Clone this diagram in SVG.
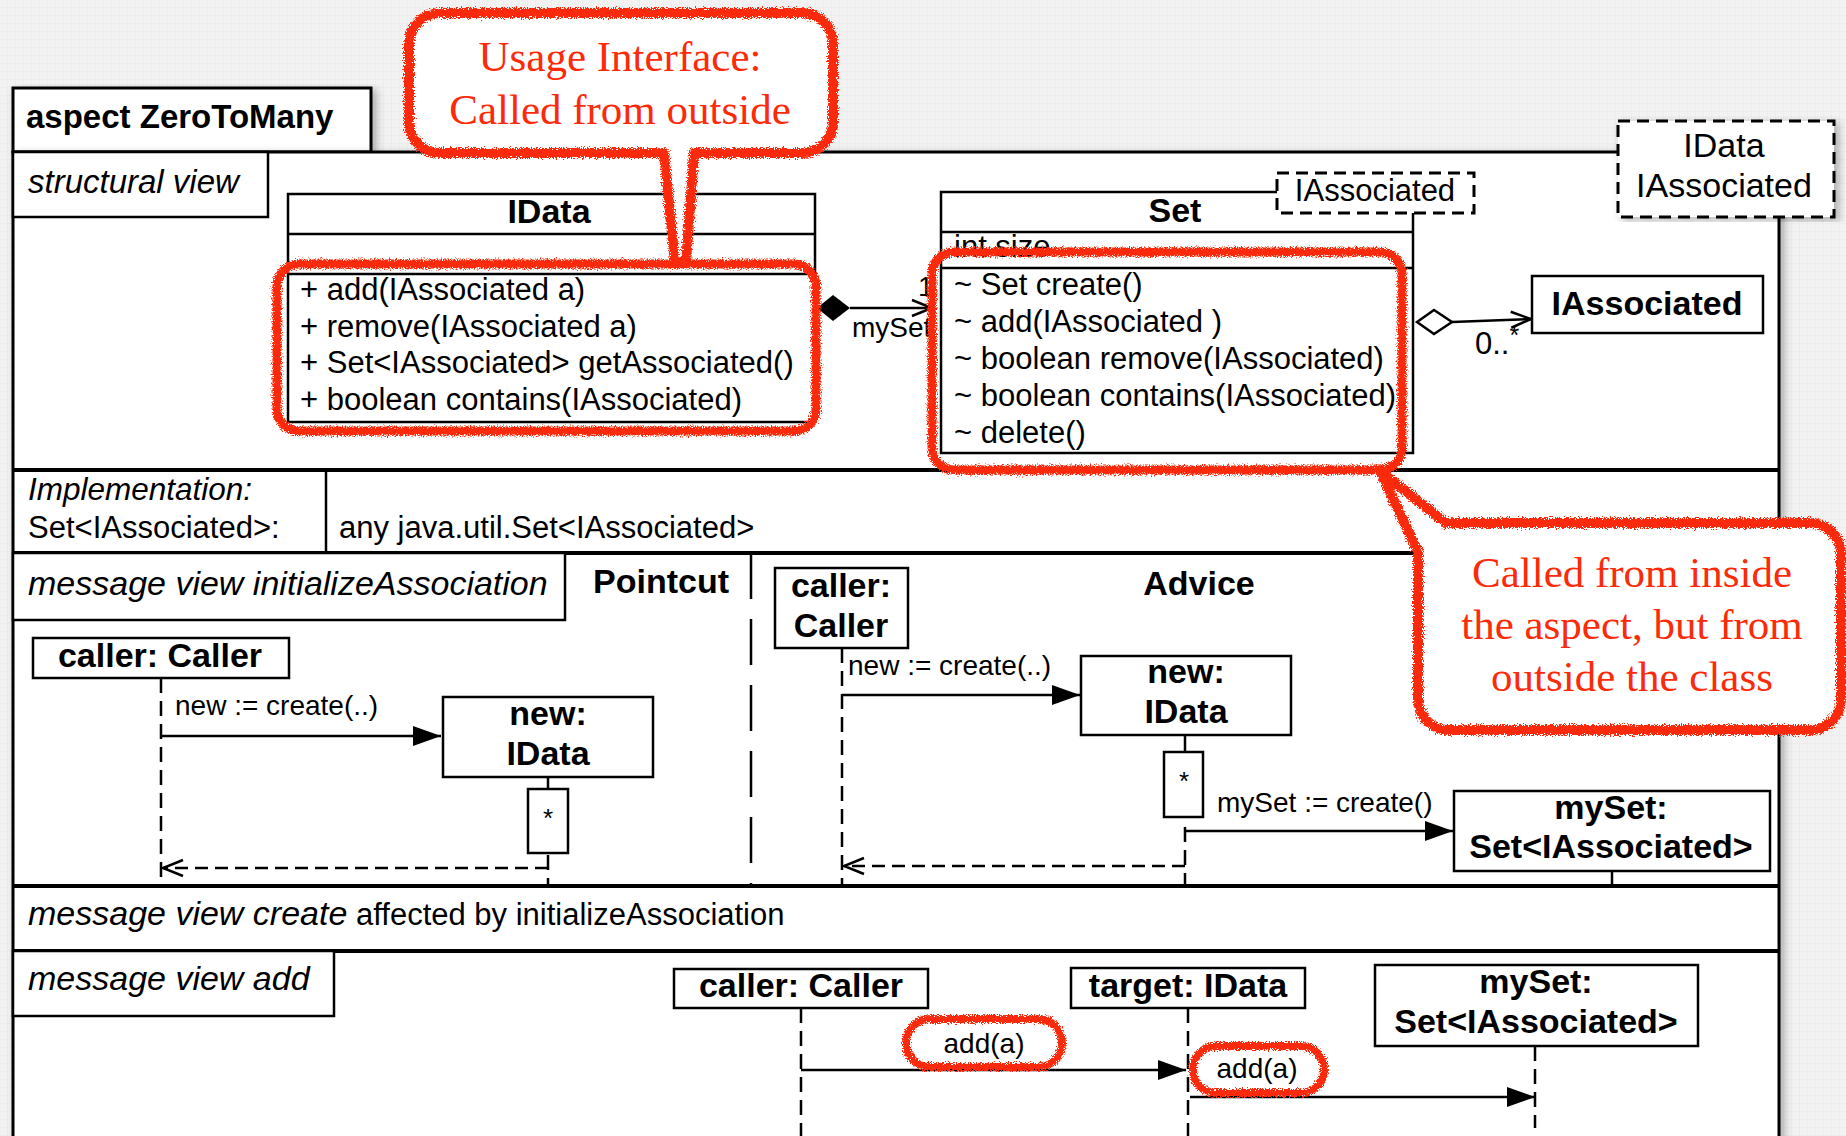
<svg xmlns="http://www.w3.org/2000/svg" width="1846" height="1136" viewBox="0 0 1846 1136">
  <style>
    .t{font-family:"Liberation Sans",Arial,Helvetica,sans-serif;fill:#000}
    .b{font-weight:bold;font-size:34px}
    .r{font-size:31px}
    .i{font-style:italic;font-size:34px}
    .m{font-size:28px}
    .c{text-anchor:middle}
    .box{fill:#fff;stroke:#000;stroke-width:2.5}
    .ln{stroke:#000;stroke-width:2.5;fill:none}
    .frame{fill:#fff;stroke:#000;stroke-width:3}
    .div{stroke:#000;stroke-width:4}
    .dash{fill:#fff;stroke:#000;stroke-width:3;stroke-dasharray:12 7}
    .life{stroke:#000;stroke-width:2.5;stroke-dasharray:15 8;fill:none}
    .ret{stroke:#000;stroke-width:2.5;stroke-dasharray:13 7;fill:none}
    .msgl{stroke:#000;stroke-width:2.5;fill:none}
    .hl{fill:none;stroke:#fc2a08;stroke-width:9;stroke-linejoin:round;filter:url(#rough)}
    .call{fill:#fff;stroke:#fc2a08;stroke-width:10;stroke-linejoin:round;filter:url(#rough)}
    .rt{font-family:"Liberation Serif","Times New Roman",serif;font-size:43px;fill:#fc2a08;text-anchor:middle}
  </style>
  <defs>
    <pattern id="grid" width="8" height="8" patternUnits="userSpaceOnUse">
      <rect width="8" height="8" fill="#f2f2f2"/>
      <path d="M8 0V8M0 8H8" stroke="#e8e8e8" stroke-width="1"/>
    </pattern>
    <filter id="shadow" x="-5%" y="-5%" width="110%" height="110%">
      <feDropShadow dx="4" dy="3" stdDeviation="4" flood-color="#000" flood-opacity="0.28"/>
    </filter>
    <!-- marker-pen look for the red annotations -->
    <filter id="rough" x="-10%" y="-10%" width="120%" height="120%">
      <feTurbulence type="fractalNoise" baseFrequency="0.85" numOctaves="2" seed="7" result="n"/>
      <feDisplacementMap in="SourceGraphic" in2="n" scale="8" xChannelSelector="R" yChannelSelector="G"/>
    </filter>
    <marker id="filled" viewBox="0 0 28 20" refX="28" refY="10" markerWidth="28" markerHeight="20" markerUnits="userSpaceOnUse" orient="auto">
      <path d="M0 0L28 10L0 20Z" fill="#000"/>
    </marker>
    <marker id="open" viewBox="0 0 24 20" refX="22" refY="10" markerWidth="24" markerHeight="20" markerUnits="userSpaceOnUse" orient="auto">
      <path d="M2 2L22 10L2 18" fill="none" stroke="#000" stroke-width="2.5"/>
    </marker>
  </defs>

  <!-- page background -->
  <rect width="1846" height="1136" fill="url(#grid)"/>

  <!-- aspect frame -->
  <g id="aspect-frame">
    <rect x="13" y="88" width="358" height="64" class="frame" filter="url(#shadow)"/>
    <rect x="13" y="152" width="1766" height="1010" class="frame" filter="url(#shadow)"/>
    <text x="26" y="128" class="t b" style="font-size:33px">aspect ZeroToMany</text>
  </g>

  <!-- aspect template parameters -->
  <g id="aspect-template">
    <rect x="1618" y="121" width="216" height="96" class="dash" filter="url(#shadow)"/>
    <text x="1724" y="157" class="t c" style="font-size:34px">IData</text>
    <text x="1724" y="197" class="t c" style="font-size:34px">IAssociated</text>
  </g>

  <!-- compartment dividers -->
  <g id="compartments">
    <line x1="13" y1="470" x2="1779" y2="470" class="div"/>
    <line x1="13" y1="553" x2="1779" y2="553" class="div"/>
    <line x1="13" y1="886" x2="1779" y2="886" class="div"/>
    <line x1="13" y1="951" x2="1779" y2="951" class="div"/>
    <line x1="326" y1="470" x2="326" y2="553" class="ln"/>
    <line x1="751" y1="553" x2="751" y2="886" stroke="#000" stroke-width="2.5" stroke-dasharray="46 20"/>
  </g>

  <g id="structural-view-tab">
    <rect x="13" y="152" width="255" height="65" class="box"/>
    <text x="28" y="193" class="t i" style="font-size:33px">structural view</text>
  </g>

  <!-- class IData -->
  <g id="idata-class">
    <rect x="288" y="194" width="527" height="228" class="box"/>
    <line x1="288" y1="234" x2="815" y2="234" class="ln"/>
    <line x1="288" y1="274" x2="815" y2="274" class="ln"/>
    <text x="549" y="223" class="t b c">IData</text>
    <text x="300" y="300" class="t r">+ add(IAssociated a)</text>
    <text x="300" y="337" class="t r">+ remove(IAssociated a)</text>
    <text x="300" y="373" class="t r">+ Set&lt;IAssociated&gt; getAssociated()</text>
    <text x="300" y="410" class="t r">+ boolean contains(IAssociated)</text>
  </g>

  <!-- class Set -->
  <g id="set-class">
    <rect x="941" y="192" width="472" height="261" class="box"/>
    <line x1="941" y1="232" x2="1413" y2="232" class="ln"/>
    <line x1="941" y1="268" x2="1413" y2="268" class="ln"/>
    <text x="1175" y="222" class="t b c">Set</text>
    <text x="954" y="257" class="t r">int size</text>
    <text x="954" y="295" class="t r">~ Set create()</text>
    <text x="954" y="332" class="t r">~ add(IAssociated )</text>
    <text x="954" y="369" class="t r">~ boolean remove(IAssociated)</text>
    <text x="954" y="406" class="t r">~ boolean contains(IAssociated)</text>
    <text x="954" y="443" class="t r">~ delete()</text>
  </g>
  <g id="set-template">
    <rect x="1277" y="173" width="197" height="40" class="dash"/>
    <text x="1375" y="201" class="t r c">IAssociated</text>
  </g>

  <g id="iassociated-class">
    <rect x="1532" y="276" width="231" height="57" class="box"/>
    <text x="1647" y="315" class="t b c">IAssociated</text>
  </g>

  <!-- implementation row -->
  <g id="implementation">
    <text x="28" y="500" class="t" style="font-style:italic;font-size:31.5px">Implementation:</text>
    <text x="28" y="538" class="t r">Set&lt;IAssociated&gt;:</text>
    <text x="339" y="538" class="t r">any java.util.Set&lt;IAssociated&gt;</text>
  </g>

  <!-- message view initializeAssociation -->
  <g id="msgview-init-tab">
    <rect x="13" y="553" width="552" height="67" class="box"/>
    <text x="28" y="595" class="t i">message view initializeAssociation</text>
  </g>
  <text x="593" y="593" class="t b">Pointcut</text>
  <text x="1199" y="595" class="t b c">Advice</text>

  <g id="pointcut-caller">
    <rect x="33" y="638" width="256" height="40" class="box"/>
    <text x="160" y="667" class="t b c">caller: Caller</text>
  </g>
  <g id="pointcut-new">
    <rect x="443" y="697" width="210" height="80" class="box"/>
    <text x="548" y="725" class="t b c">new:</text>
    <text x="548" y="765" class="t b c">IData</text>
    <rect x="528" y="789" width="40" height="64" class="box"/>
    <text x="548" y="827" class="t c" style="font-size:26px">*</text>
  </g>

  <g id="advice-caller">
    <rect x="775" y="568" width="133" height="80" class="box"/>
    <text x="841" y="597" class="t b c">caller:</text>
    <text x="841" y="637" class="t b c">Caller</text>
  </g>
  <g id="advice-new">
    <rect x="1081" y="656" width="210" height="79" class="box"/>
    <text x="1186" y="683" class="t b c">new:</text>
    <text x="1186" y="723" class="t b c">IData</text>
    <rect x="1164" y="752" width="39" height="65" class="box"/>
    <text x="1184" y="790" class="t c" style="font-size:26px">*</text>
  </g>
  <g id="advice-myset">
    <rect x="1454" y="791" width="316" height="80" class="box"/>
    <text x="1611" y="819" class="t b c">mySet:</text>
    <text x="1611" y="858" class="t b c">Set&lt;IAssociated&gt;</text>
  </g>

  <!-- message view create -->
  <g id="msgview-create">
    <text x="28" y="925" class="t"><tspan style="font-style:italic;font-size:34px">message view create</tspan><tspan style="font-size:31px"> affected by initializeAssociation</tspan></text>
  </g>

  <!-- message view add -->
  <g id="msgview-add-tab">
    <rect x="13" y="951" width="321" height="65" class="box"/>
    <text x="28" y="990" class="t i">message view add</text>
  </g>
  <g id="add-caller">
    <rect x="674" y="969" width="254" height="39" class="box"/>
    <text x="801" y="997" class="t b c">caller: Caller</text>
  </g>
  <g id="add-target">
    <rect x="1071" y="968" width="234" height="40" class="box"/>
    <text x="1188" y="997" class="t b c">target: IData</text>
  </g>
  <g id="add-myset">
    <rect x="1375" y="965" width="323" height="81" class="box"/>
    <text x="1536" y="993" class="t b c">mySet:</text>
    <text x="1536" y="1033" class="t b c">Set&lt;IAssociated&gt;</text>
  </g>

  <!-- connectors: associations, lifelines and messages -->
  <g id="connectors">
    <!-- composition IData -> Set -->
    <polygon points="817,308 833,295 850,308 833,321" fill="#000"/>
    <line x1="850" y1="308" x2="932" y2="308" class="msgl" marker-end="url(#open)"/>
    <text x="918" y="296" class="t" style="font-size:28px">1</text>
    <text x="852" y="337" class="t" style="font-size:28px">mySet</text>
    <!-- aggregation Set -> IAssociated -->
    <polygon points="1417,322 1434,310 1452,322 1434,334" fill="#fff" stroke="#000" stroke-width="2.5"/>
    <line x1="1452" y1="322" x2="1531" y2="319" class="msgl" marker-end="url(#open)"/>
    <text x="1475" y="354" class="t" style="font-size:31px">0..<tspan dy="-10" style="font-size:25px">*</tspan></text>

    <!-- pointcut -->
    <line x1="161" y1="678" x2="161" y2="886" class="life"/>
    <line x1="161" y1="736" x2="441" y2="736" class="msgl" marker-end="url(#filled)"/>
    <text x="175" y="715" class="t m">new := create(..)</text>
    <line x1="548" y1="777" x2="548" y2="789" class="msgl"/>
    <line x1="548" y1="855" x2="548" y2="886" class="life"/>
    <line x1="548" y1="868" x2="163" y2="868" class="ret" marker-end="url(#open)"/>

    <!-- advice -->
    <line x1="842" y1="648" x2="842" y2="886" class="life"/>
    <line x1="842" y1="695" x2="1080" y2="695" class="msgl" marker-end="url(#filled)"/>
    <text x="848" y="675" class="t m">new := create(..)</text>
    <line x1="1185" y1="735" x2="1185" y2="752" class="msgl"/>
    <line x1="1185" y1="827" x2="1185" y2="886" class="life"/>
    <line x1="1185" y1="831" x2="1453" y2="831" class="msgl" marker-end="url(#filled)"/>
    <text x="1217" y="812" class="t m">mySet := create()</text>
    <line x1="1185" y1="866" x2="844" y2="866" class="ret" marker-end="url(#open)"/>
    <line x1="1612" y1="871" x2="1612" y2="886" class="msgl"/>

    <!-- add -->
    <line x1="801" y1="1008" x2="801" y2="1136" class="life"/>
    <line x1="1188" y1="1008" x2="1188" y2="1136" class="life"/>
    <line x1="1535" y1="1046" x2="1535" y2="1128" class="life"/>
    <line x1="801" y1="1070" x2="1186" y2="1070" class="msgl" marker-end="url(#filled)"/>
    <line x1="1190" y1="1097" x2="1535" y2="1097" class="msgl" marker-end="url(#filled)"/>
    <text x="984" y="1053" class="t c" style="font-size:28px">add(a)</text>
    <text x="1257" y="1078" class="t c" style="font-size:28px">add(a)</text>
  </g>

  <!-- hand-drawn annotations -->
  <g id="annotations">
    <rect x="277" y="264" width="539" height="167" rx="22" class="hl"/>
    <rect x="932" y="252" width="470" height="218" rx="22" class="hl"/>
    <rect x="906" y="1019" width="156" height="48" rx="24" class="hl" style="stroke-width:8"/>
    <rect x="1193" y="1046" width="131" height="47" rx="23" class="hl" style="stroke-width:8"/>
  </g>

  <g id="callout-usage">
    <path class="call" d="M440 13H802A31 31 0 0 1 833 44V122A31 31 0 0 1 802 153H694L686 263H675L664 153H440A31 31 0 0 1 409 122V44A31 31 0 0 1 440 13Z"/>
    <text x="620" y="71" class="rt">Usage Interface:</text>
    <text x="620" y="124" class="rt">Called from outside</text>
  </g>

  <g id="callout-inside">
    <path class="call" d="M1446 523H1810A31 31 0 0 1 1841 554V699A31 31 0 0 1 1810 730H1449A31 31 0 0 1 1418 699V552L1380 471Z"/>
    <text x="1632" y="587" class="rt">Called from inside</text>
    <text x="1632" y="639" class="rt">the aspect, but from</text>
    <text x="1632" y="691" class="rt">outside the class</text>
  </g>
</svg>
